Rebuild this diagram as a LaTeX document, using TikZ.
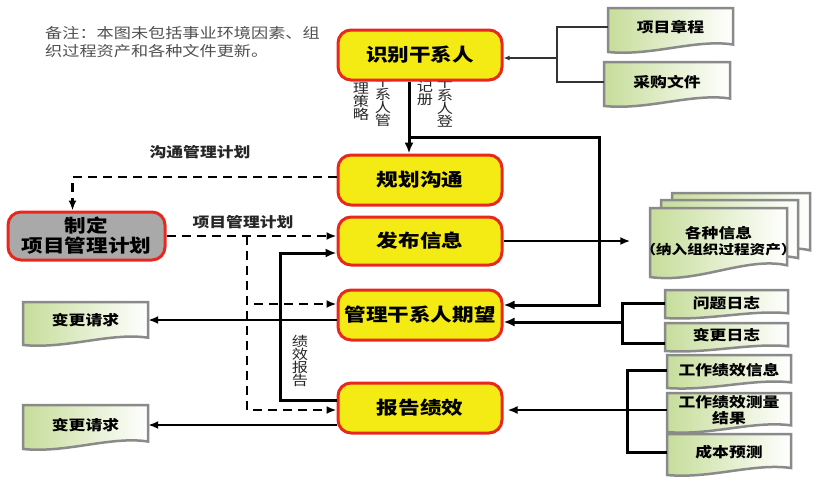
\documentclass[tikz,border=0pt]{standalone}
\usepackage{fontspec}
\setmainfont{Noto Sans CJK SC}[FakeStretch=1.2]
\usetikzlibrary{arrows.meta}
\definecolor{yfill}{HTML}{F4EA14}
\definecolor{rbord}{HTML}{E8281E}
\definecolor{gfill}{HTML}{A9A9A9}
\definecolor{dgreen}{HTML}{C6DD9A}
\definecolor{dgray}{HTML}{8A8A8A}
\definecolor{notec}{HTML}{505050}
\newcommand\docshape[4]{%
  \draw[docline] (#1,#2) -- (#3,#2) -- (#3,{#4-0.17*(#4-#2)})
    .. controls ({#3-0.3*(#3-#1)},{#4-0.3*(#4-#2)}) and ({#1+0.35*(#3-#1)},{#4+0.1*(#4-#2)}) .. (#1,#4) -- cycle;}
\newcommand\docnode[7]{%
  \docshape{#2}{#3}{#4}{#5}%
  \node[docnode, minimum width={(#4-#2)*1pt}] (#1) at ({(#2+#4)/2},#6) {#7};}
\tikzset{
  procbox/.style={draw=rbord, line width=3pt, fill=yfill, rounded corners=13pt,
    minimum width=164pt, inner sep=0pt, font=\fontsize{18}{20}\selectfont\bfseries},
  planbox/.style={draw=rbord, line width=3pt, fill=gfill, rounded corners=13pt,
    minimum width=157pt, minimum height=48pt, inner sep=0pt, align=center,
    font=\fontsize{18}{20}\selectfont\bfseries},
  docline/.style={left color=dgreen, right color=white, draw=dgray, line width=2.5pt},
  docnode/.style={inner sep=0pt, align=center, font=\fontsize{14}{16}\selectfont\bfseries},
  lab/.style={inner sep=0pt, text=black!85, font=\fontsize{14}{16}\selectfont\bfseries},
  vlab/.style={inner sep=0pt, align=center, text=black!85, font=\fontsize{13.5}{13}\selectfont},
  notetext/.style={inner sep=0pt, align=left, text=notec, font=\fontsize{14.3}{18}\selectfont},
  thinline/.style={line width=1.2pt, black!80},
  thinarrow/.style={thinline, -{Latex[length=6pt,width=5pt]}},
  thickline/.style={line width=3pt},
  thickarrow/.style={line width=3pt, -{Latex[length=11pt,width=9pt]}},
  medarrow/.style={line width=2.5pt, -{Latex[length=10pt,width=8pt]}},
  dashline/.style={line width=2.5pt, dash pattern=on 9pt off 6pt},
  dasharrow/.style={dashline, -{Latex[length=10pt,width=8pt]}},
}
\begin{document}
\begin{tikzpicture}[x=1pt,y=-1pt]
\useasboundingbox (0,0) rectangle (822,491);

% note
\node[notetext, anchor=north west] (nt) at (45,26) {备注：本图未包括事业环境因素、组\\织过程资产和各种文件更新。};

% vertical labels (behind boxes)
\node[vlab, anchor=north] (v1) at (383,76) {干\\系\\人\\管};
\node[vlab, anchor=north] (v2) at (361,83) {理\\策\\略};
\node[vlab, anchor=north] (v3) at (445,77) {干\\系\\人\\登};
\node[vlab, anchor=north] (v4) at (425,80) {记\\册};
\node[vlab, anchor=north] (v5) at (300,335) {绩\\效\\报\\告};

% process boxes
\node[procbox, minimum height=50pt] (A) at (420,55) {识别干系人};
\node[procbox, minimum height=50pt] (B) at (420,180) {规划沟通};
\node[procbox, minimum height=48pt] (C) at (420,241) {发布信息};
\node[procbox, minimum height=50pt] (D) at (420,315) {管理干系人期望};
\node[procbox, minimum height=50pt] (E) at (420,408) {报告绩效};
\node[planbox] (G) at (86.5,236) {制定\\项目管理计划};

% documents
\docnode{pc}{608}{8}{733}{52}{27}{项目章程}
\docnode{cg}{604}{62}{730}{106}{82}{采购文件}
\docshape{672}{193}{810}{262}
\docshape{661}{200}{798}{270}
\docnode{info}{650}{208}{787}{277}{241}{各种信息\\{\fontsize{13}{17}\selectfont （纳入组织过程资产）}}
\docnode{il}{665}{290}{788}{318}{303}{问题日志}
\docnode{cl}{665}{323}{788}{351}{335}{变更日志}
\docnode{wi}{667}{355}{791}{388}{370}{工作绩效信息}
\docnode{wm}{667}{393}{791}{432}{410}{工作绩效测量\\结果}
\docnode{cf}{667}{434}{791}{475}{452}{成本预测}
\docnode{cr1}{23}{302}{148}{345}{320}{变更请求}
\docnode{cr2}{23}{405}{148}{449}{425}{变更请求}

% labels
\node[lab] (l1) at (200,152) {沟通管理计划};
\node[lab] (l2) at (243,222) {项目管理计划};

% connectors
\coordinate (b1) at (557,58);
\draw[thinline] (pc.west) -| (b1) |- (cg.west);
\draw[thinarrow] (b1) -- (b1 -| A.east);

\draw[thickarrow] ([xshift=-11pt]A.south) -- ([xshift=-11pt]B.north);
\coordinate (j1) at (409,137);
\coordinate (j2) at (599,137);
\draw[thickarrow] (j1) -- (j2) |- ([yshift=10pt]D.east);

\draw[dasharrow] ([yshift=3pt]B.west) -| ([xshift=-14pt]G.north);
\draw[dasharrow] (G.east) -- (G.east -| C.west);
\coordinate (j3) at (247,236);
\draw[dasharrow] (j3) |- ([yshift=11pt]D.west);
\draw[dasharrow] (j3) |- ([yshift=-2pt]E.west);

\coordinate (k1) at (280,400);
\draw[thickarrow] ([yshift=8pt]E.west) -- (k1) |- ([yshift=-12pt]C.west);

\draw[medarrow] (D.west |- cr1.east) -- (cr1.east);
\draw[medarrow] (E.west |- cr2.east) -- (cr2.east);
\draw[medarrow, shorten >=10pt] (C.east) -- (C.east -| info.west);

\coordinate (b2) at (622,322);
\draw[thickline] (il.west) -| (b2) |- ([yshift=-8pt]cl.west);
\draw[thickarrow] (b2) -- (b2 -| D.east);

\coordinate (b3) at (627,409);
\draw[thickline] (wi.west) -| (b3) |- (cf.west);
\draw[medarrow, shorten >=4pt] (wm.west) -- (wm.west -| E.east);
\end{tikzpicture}
\end{document}
